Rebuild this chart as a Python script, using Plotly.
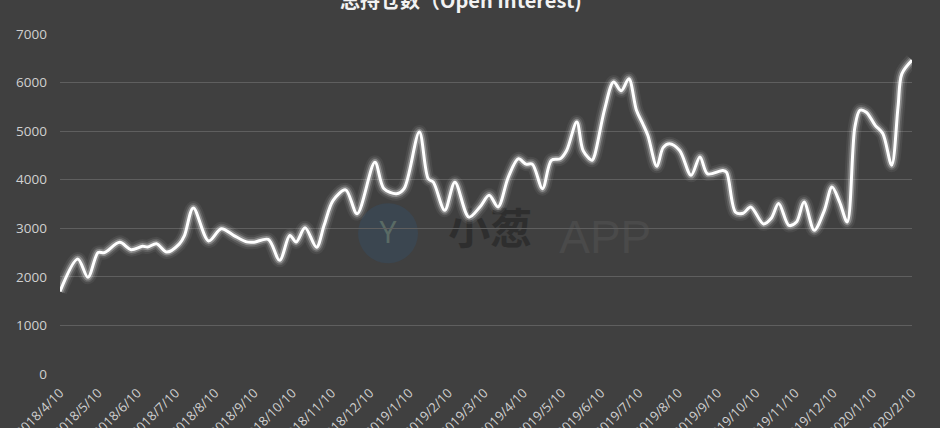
import plotly.graph_objects as go

# ---- data ----
dates = [
    "2018-04-10", "2018-04-24", "2018-05-02", "2018-05-10", "2018-05-15", "2018-05-27", "2018-06-05", "2018-06-14", "2018-06-18", "2018-06-25",
    "2018-07-03", "2018-07-13", "2018-07-17", "2018-07-24", "2018-08-05", "2018-08-15", "2018-08-25", "2018-09-04", "2018-09-10", "2018-09-21",
    "2018-09-30", "2018-10-08", "2018-10-13", "2018-10-20", "2018-10-29", "2018-11-04", "2018-11-11", "2018-11-21", "2018-11-30", "2018-12-14",
    "2018-12-21", "2018-12-31", "2019-01-06", "2019-01-18", "2019-01-25", "2019-01-29", "2019-02-07", "2019-02-15", "2019-02-26", "2019-03-07",
    "2019-03-14", "2019-03-21", "2019-03-29", "2019-04-06", "2019-04-12", "2019-04-17", "2019-04-25", "2019-05-02", "2019-05-09", "2019-05-14",
    "2019-05-22", "2019-05-27", "2019-06-03", "2019-06-05", "2019-06-13", "2019-06-20", "2019-06-26", "2019-07-02", "2019-07-08", "2019-07-13",
    "2019-07-17", "2019-07-24", "2019-07-29", "2019-08-03", "2019-08-11", "2019-08-20", "2019-08-27", "2019-09-02", "2019-09-14", "2019-09-17",
    "2019-09-24", "2019-09-30", "2019-10-06", "2019-10-16", "2019-10-22", "2019-10-28", "2019-11-05", "2019-11-11", "2019-11-17", "2019-11-25",
    "2019-12-03", "2019-12-09", "2019-12-15", "2019-12-21", "2019-12-27", "2019-12-31", "2020-01-05", "2020-01-12", "2020-01-18", "2020-01-25",
    "2020-01-30", "2020-02-02", "2020-02-10",
]
open_interest = [
    1700, 2370, 1990, 2500, 2500, 2710, 2560, 2630, 2615, 2680,
    2510, 2680, 2850, 3420, 2740, 2990, 2850, 2720, 2715, 2770,
    2340, 2850, 2720, 3010, 2610, 3060, 3570, 3790, 3300, 4360,
    3820, 3710, 3815, 4980, 4020, 3950, 3370, 3950, 3230, 3450,
    3680, 3440, 4050, 4430, 4320, 4320, 3815, 4400, 4430, 4600,
    5190, 4600, 4400, 4500, 5460, 6010, 5830, 6080, 5430, 5150,
    4910, 4275, 4660, 4740, 4600, 4090, 4470, 4120, 4190, 4150,
    3330, 3310, 3440, 3090, 3200, 3510, 3060, 3130, 3540, 2960,
    3370, 3850, 3540, 3130, 5080, 5430, 5390, 5120, 4950, 4300,
    5500, 6180, 6460,
]
tick_dates = [
    "2018-04-10", "2018-05-10", "2018-06-10", "2018-07-10", "2018-08-10", "2018-09-10",
    "2018-10-10", "2018-11-10", "2018-12-10", "2019-01-10", "2019-02-10", "2019-03-10",
    "2019-04-10", "2019-05-10", "2019-06-10", "2019-07-10", "2019-08-10", "2019-09-10",
    "2019-10-10", "2019-11-10", "2019-12-10", "2020-01-10", "2020-02-10",
]
tick_labels = [
    "2018/4/10", "2018/5/10", "2018/6/10", "2018/7/10", "2018/8/10", "2018/9/10",
    "2018/10/10", "2018/11/10", "2018/12/10", "2019/1/10", "2019/2/10", "2019/3/10",
    "2019/4/10", "2019/5/10", "2019/6/10", "2019/7/10", "2019/8/10", "2019/9/10",
    "2019/10/10", "2019/11/10", "2019/12/10", "2020/1/10", "2020/2/10",
]
y_ticks = [0, 1000, 2000, 3000, 4000, 5000, 6000, 7000]
title_text = "总持仓数（Open Interest)"

BG = "#404040"

fig = go.Figure()

# glow layers + main white line
for w, c in [(14, "rgba(255,255,255,0.06)"), (10, "rgba(255,255,255,0.12)"),
             (6.5, "rgba(255,255,255,0.28)"), (3, "#ffffff")]:
    fig.add_trace(go.Scatter(
        x=dates, y=open_interest, mode="lines",
        line=dict(color=c, width=w, shape="spline", smoothing=0.9),
        hoverinfo="skip", showlegend=False,
    ))

fig.update_layout(
    width=940, height=428,
    paper_bgcolor=BG, plot_bgcolor=BG,
    margin=dict(l=60, r=28, t=34, b=54, autoexpand=False),
    showlegend=False,
    hovermode=False,
    font=dict(family="Open Sans, Noto Sans CJK SC", color="#d4d4d4", size=13),
    xaxis=dict(
        type="date", automargin=False,
        range=["2018-04-10", "2020-02-10"],
        tickmode="array", tickvals=tick_dates, ticktext=tick_labels,
        tickangle=-45, tickfont=dict(size=13, color="#d0d0d0"),
        showgrid=False, zeroline=False, showline=False, ticks="",
        ticklabelstandoff=8,
    ),
    yaxis=dict(
        range=[0, 7000], automargin=False,
        tickmode="array", tickvals=y_ticks,
        tickfont=dict(size=13.5, color="#d0d0d0"),
        showgrid=True, gridcolor="#5f5f5f", gridwidth=1,
        zeroline=True, zerolinecolor=BG, zerolinewidth=2,
        showline=False, ticks="", ticklabelstandoff=12,
    ),
    annotations=[
        dict(text="<b>" + title_text + "</b>", xref="paper", yref="paper",
             x=0.4707, y=1.1, xanchor="center", yanchor="middle", showarrow=False,
             font=dict(family="Noto Sans CJK SC", size=20, color="#f2f2f2")),
    ],
    shapes=[
        # watermark logo circle
        dict(type="circle", xref="paper", yref="paper", layer="below",
             x0=0.3498, x1=0.4202, y0=0.3255, y1=0.502,
             fillcolor="#3b4650", line=dict(width=0),
             label=dict(text="Y", font=dict(family="Noto Sans", size=30, color="#5a6b65"))),
        # watermark text
        dict(type="rect", xref="paper", yref="paper", layer="below",
             x0=0.43, x1=0.58, y0=0.33, y1=0.50, line=dict(width=0),
             fillcolor="rgba(0,0,0,0)",
             label=dict(text="<b>小葱</b>", font=dict(family="Noto Sans CJK SC", size=42, color="#2e2e2e"))),
        dict(type="rect", xref="paper", yref="paper", layer="below",
             x0=0.55, x1=0.73, y0=0.33, y1=0.50, line=dict(width=0),
             fillcolor="rgba(0,0,0,0)",
             label=dict(text="APP", font=dict(family="Liberation Sans", size=46, color="#4a4a4a"))),
    ],
)

fig.write_html(
    "out.html",
    config={"displayModeBar": False, "staticPlot": True},
    post_script="document.body.style.margin='0';document.body.style.background='#404040';",
)
